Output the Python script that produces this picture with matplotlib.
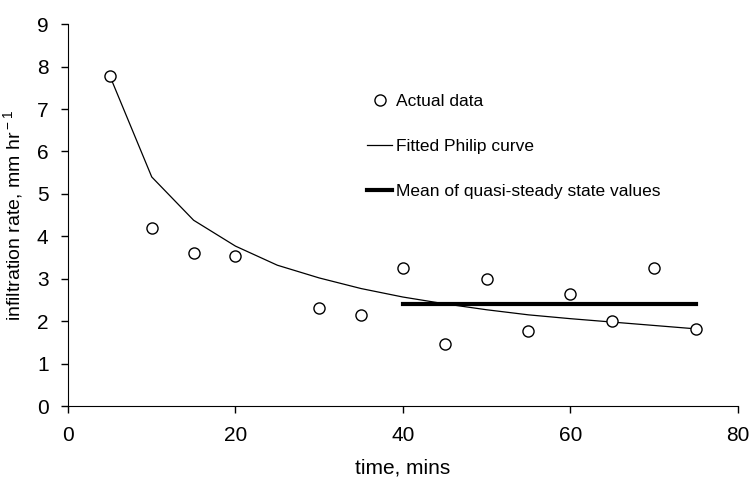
import numpy as np
import matplotlib.pyplot as plt

plt.rcParams['font.family'] = ['Liberation Sans', 'DejaVu Sans']
plt.rcParams['mathtext.fontset'] = 'custom'
plt.rcParams['mathtext.rm'] = 'Liberation Sans'

# actual infiltration measurements
time_obs = [5, 10, 15, 20, 30, 35, 40, 45, 50, 55, 60, 65, 70, 75]
rate_obs = [7.78, 4.20, 3.60, 3.53, 2.31, 2.15, 3.25, 1.47, 3.00, 1.76, 2.64, 2.00, 3.25, 1.81]

# fitted Philip curve
time_fit = [5, 10, 15, 20, 25, 30, 35, 40, 45, 50, 55, 60, 65, 70, 75]
rate_fit = [7.78, 5.40, 4.38, 3.77, 3.32, 3.02, 2.77, 2.57, 2.41, 2.27, 2.15, 2.06, 1.98, 1.90, 1.82]

# mean of quasi-steady state values
time_mean = [40, 75]
rate_mean = [2.41, 2.41]

fig = plt.figure(figsize=(7.5, 4.84), dpi=100)
ax = fig.add_axes([0.0907, 0.161, 0.893, 0.789])

ax.plot(time_obs, rate_obs, 'o', mfc='white', mec='black', ms=8, mew=1.0,
        label='Actual data', zorder=3)
ax.plot(time_fit, rate_fit, '-', color='black', lw=0.9, label='Fitted Philip curve')
ax.plot(time_mean, rate_mean, '-', color='black', lw=3.0,
        label='Mean of quasi-steady state values')

ax.set_xlim(0, 80)
ax.set_ylim(0, 9)
ax.set_xticks(np.arange(0, 81, 20))
ax.set_yticks(np.arange(0, 10, 1))
ax.spines['top'].set_visible(False)
ax.spines['right'].set_visible(False)
ax.tick_params(direction='out', length=5, width=1, labelsize=15, pad=9)
ax.set_xlabel('time, mins', fontsize=15, labelpad=10)
ax.set_ylabel('infiltration rate, mm hr$^{\\rm -1}$', fontsize=14, labelpad=8)

ax.legend(loc='upper left', bbox_to_anchor=(0.436, 0.835), frameon=False, fontsize=12.5,
          handlelength=1.45, handletextpad=0.2, labelspacing=1.72, borderaxespad=0)

fig.savefig('out.png', dpi=100)
